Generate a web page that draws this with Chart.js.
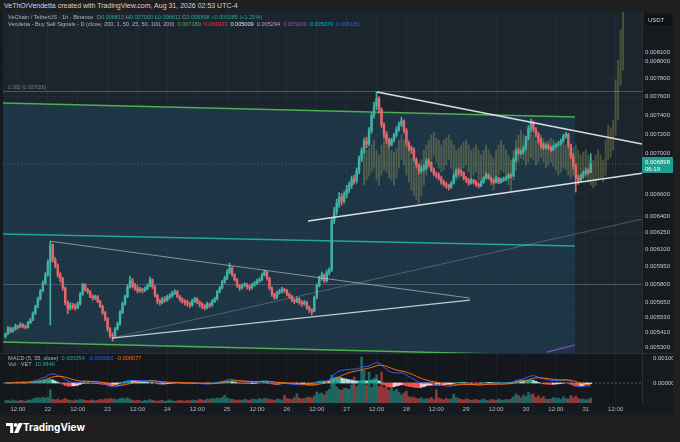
<!DOCTYPE html>
<html>
<head>
<meta charset="utf-8">
<script src="https://cdn.jsdelivr.net/npm/chart.js@4.4.1/dist/chart.umd.min.js"></script>
<style>
  body { margin:0; width:680px; height:442px; background:#1f1f1f; position:relative; overflow:hidden; font-family:"Liberation Sans", Arial, sans-serif; }
  canvas { position:absolute; left:0; background:#161a1f; }
  #main { top:12px; }
  #osc { top:353px; }
  .t { position:absolute; white-space:pre; line-height:1; }
  .g { color:#9598a1; }
  .up { color:#26a69a; }
</style>
</head>
<body>
<canvas id="main" width="673" height="341"></canvas>
<canvas id="osc" width="673" height="62"></canvas>
<div style="position:absolute;left:0;top:353px;width:673px;height:1px;background:#2a2e39"></div>

<div class="t" style="left:4px;top:2px;font-size:7px;color:#d1d4dc">VeThOrVendetta created with TradingView.com, Aug 31, 2026 02:53 UTC-4</div>
<div class="t" style="left:8px;top:15px;font-size:5.6px;color:#b2b5be">VeChain / TetherUS · 1h · Binance  <span class="g">O</span><span class="up">0.006813</span> <span class="g">H</span><span class="up">0.007000</span> <span class="g">L</span><span class="up">0.006811</span> <span class="g">C</span><span class="up">0.006898</span> <span class="up">+0.000085 (+1.25%)</span></div>
<div class="t" style="left:8px;top:22px;font-size:5.6px;color:#b2b5be">Vendetta - Buy Sell Signals - D (close, 200, 1, 50, 25, 50, 100, 200)  <span style="color:#4caf50">0.007189</span>  <span style="color:#f23645">0.004933</span>  <span style="color:#e0e3eb">0.005009</span>  <span style="color:#ce93d8">0.005294</span>  <span style="color:#ab47bc">0.005009</span>  <span style="color:#00bcd4">0.005070</span>  <span style="color:#2962ff">0.006181</span></div>
<div class="t" style="left:8px;top:85px;font-size:5px;color:rgba(178,181,190,0.6)">0.382 (0.007656)</div>

<div style="position:absolute;left:645px;top:15px;width:27px;height:10px;background:#0f1215;border-radius:1px"></div>
<div class="t" style="left:648px;top:17px;font-size:6px;color:#d1d4dc">USDT</div>
<div style="position:absolute;left:642px;top:157px;width:31px;height:16px;background:#1f9e8f;border-radius:1px"></div>
<div class="t" style="left:645px;top:159px;font-size:6px;color:#ffffff">0.006898</div>
<div class="t" style="left:645px;top:166px;font-size:6px;color:#ffffff">06:19</div>

<div class="t" style="left:8px;top:356px;font-size:5.6px;color:#b2b5be">MACD (5, 35, close)  <span style="color:#26a69a">0.000054</span>  <span style="color:#2962ff">-0.000063</span>  <span style="color:#ff6d00">-0.000077</span></div>
<div class="t" style="left:8px;top:362px;font-size:5.6px;color:#b2b5be">Vol · VET  <span style="color:#26a69a">10.984K</span></div>

<svg style="position:absolute;left:6px;top:423px" width="17" height="10" viewBox="0 0 17 10">
  <path d="M0 0h7.2v10H4.2V3H0z" fill="#ffffff"/>
  <circle cx="9.7" cy="1.9" r="1.9" fill="#ffffff"/>
  <path d="M12.6 0h4.2l-4.6 10H8z" fill="#ffffff"/>
</svg>
<div class="t" style="left:23px;top:422px;font-size:10px;font-weight:700;color:#ffffff;font-family:Inter, 'Liberation Sans', sans-serif">TradingView</div>

<script>
// hour index 0 = Aug 21 00:00, one candle per hour (1h chart)
const firstHour = 7;
const firstOpenE6 = 5380;

// prices in millionths of USDT
const closeE6 = [
  5400,5447,5420,5440,5463,5455,5475,5460,5450,5490,
  5510,5560,5620,5680,5745,5810,5880,5990,6140,6010,
  5960,5880,5850,5770,5650,5600,5630,5620,5606,5640,
  5720,5800,5760,5740,5700,5690,5700,5660,5620,5570,
  5520,5440,5390,5385,5440,5480,5570,5640,5700,5780,
  5830,5790,5770,5745,5760,5750,5765,5790,5840,5780,
  5710,5660,5650,5680,5670,5700,5705,5730,5740,5700,
  5680,5660,5655,5640,5630,5665,5680,5650,5640,5620,
  5610,5640,5630,5660,5680,5740,5770,5820,5850,5900,
  5940,5880,5840,5790,5770,5790,5800,5780,5770,5795,
  5810,5830,5840,5880,5905,5850,5770,5720,5690,5730,
  5740,5760,5750,5720,5700,5670,5660,5680,5650,5640,
  5655,5610,5590,5580,5690,5790,5850,5880,5830,5900,
  5920,6360,6440,6520,6580,6540,6600,6650,6690,6750,
  6730,6830,6950,7030,7130,7100,7240,7400,7500,7580,
  7460,7300,7200,7140,7090,7140,7190,7250,7300,7340,
  7240,7110,7060,7040,6940,6890,6830,6850,6860,6930,
  6910,6840,6800,6790,6760,6720,6700,6690,6670,6710,
  6780,6830,6820,6810,6760,6740,6710,6740,6720,6700,
  6685,6720,6760,6790,6760,6740,6720,6760,6720,6740,
  6750,6765,6790,6780,6940,7030,7010,7020,7060,7160,
  7260,7320,7250,7200,7140,7090,7060,7080,7060,7040,
  7070,7090,7100,7130,7180,7200,7090,6980,6880,6760,
  6740,6780,6810,6830,6813,6898
];
const highE6 = [
  5410,5460,5455,5452,5478,5470,5490,5482,5470,5500,
  5525,5575,5630,5695,5760,5830,5900,6010,6173,6150,
  6030,5975,5900,5860,5780,5665,5650,5645,5640,5655,
  5735,5811,5805,5770,5750,5715,5712,5710,5670,5630,
  5580,5530,5450,5410,5450,5495,5585,5655,5712,5800,
  5871,5850,5810,5790,5775,5770,5780,5805,5862,5845,
  5790,5720,5680,5695,5700,5712,5725,5745,5755,5750,
  5710,5690,5675,5670,5655,5680,5695,5690,5665,5650,
  5635,5655,5650,5675,5695,5750,5785,5835,5870,5925,
  5982,5950,5890,5850,5800,5805,5815,5810,5795,5810,
  5825,5845,5855,5895,5921,5910,5860,5780,5730,5745,
  5760,5775,5770,5760,5730,5710,5685,5695,5690,5665,
  5670,5660,5625,5600,5705,5805,5871,5904,5890,5921,
  5940,6382,6480,6560,6620,6610,6630,6690,6720,6780,
  6790,6860,6980,7060,7160,7170,7270,7430,7540,7650,
  7600,7480,7320,7230,7160,7160,7210,7280,7330,7380,
  7350,7260,7130,7080,7060,6960,6900,6880,6890,6950,
  6950,6920,6860,6820,6810,6780,6740,6720,6700,6725,
  6800,6850,6860,6840,6820,6775,6755,6760,6750,6735,
  6715,6735,6775,6810,6800,6770,6750,6780,6770,6760,
  6770,6780,6805,6800,6960,7050,7060,7040,7080,7180,
  7290,7360,7340,7270,7220,7160,7110,7100,7100,7075,
  7090,7110,7125,7150,7200,7222,7210,7100,7000,6900,
  6790,6800,6830,6860,6850,7000
];
const lowE6 = [
  5370,5395,5410,5415,5430,5440,5450,5448,5440,5445,
  5480,5505,5555,5610,5670,5740,5800,5870,5471,5990,
  5940,5860,5820,5750,5630,5560,5590,5600,5590,5600,
  5630,5710,5745,5725,5690,5670,5675,5650,5610,5555,
  5505,5420,5370,5346,5375,5430,5470,5560,5630,5690,
  5770,5770,5750,5730,5735,5730,5740,5755,5780,5765,
  5695,5640,5630,5640,5655,5660,5680,5695,5715,5690,
  5660,5645,5630,5620,5610,5620,5650,5640,5615,5600,
  5590,5600,5610,5620,5650,5670,5730,5760,5810,5840,
  5890,5870,5830,5775,5750,5760,5780,5760,5750,5760,
  5785,5800,5815,5830,5870,5835,5755,5700,5675,5680,
  5720,5730,5735,5705,5685,5655,5640,5650,5635,5620,
  5630,5595,5570,5550,5575,5680,5780,5835,5815,5820,
  5880,5910,6330,6410,6480,6500,6520,6570,6620,6660,
  6700,6710,6800,6920,7000,7060,7080,7210,7370,7460,
  7420,7270,7160,7100,7060,7080,7120,7170,7230,7280,
  7210,7080,7030,7000,6920,6860,6800,6810,6830,6840,
  6880,6820,6780,6760,6740,6700,6680,6660,6644,6660,
  6700,6770,6790,6780,6740,6715,6690,6700,6700,6680,
  6665,6675,6710,6750,6745,6720,6700,6710,6705,6710,
  6725,6735,6755,6760,6775,6920,6990,6990,7000,7040,
  7140,7230,7220,7170,7110,7060,7040,7050,7040,7020,
  7030,7060,7070,7090,7120,7160,7060,6950,6850,6625,
  6700,6720,6760,6790,6790,6811
];
// hourly volume, thousands of VET
const volumeK = [
  5,6,4,7,5,4,6,5,4,7,6,
  9,11,12,10,13,11,12,
  29,
  8,7,9,6,8,10,7,6,5,7,6,8,
  7,6,5,6,7,5,6,8,7,9,8,10,
  9,8,7,10,11,9,12,8,6,5,6,
  5,4,6,5,8,6,5,4,5,6,4,5,7,5,4,5,6,5,4,6,
  5,7,6,5,8,7,6,9,8,10,9,11,10,12,17,11,9,8,7,6,
  7,6,8,7,6,9,8,7,10,8,11,9,8,7,6,9,8,7,
  17,10,9,8,12,20,11,9,10,12,13,11,
  16,24,20,22,18,26,30,
  62,44,36,30,28,33,32,30,
  40,57,36,42,101,72,40,68,34,55,62,36,68,34,36,
  28,42,26,30,24,18,22,26,14,12,13,10,9,12,8,
  10,9,12,8,29,11,9,7,10,8,9,20,12,10,8,7,9,8,6,7,
  8,6,7,9,6,5,8,7,6,9,7,6,8,7,9,
  14,20,16,12,18,14,24,18,20,12,16,10,14,9,8,
  9,12,10,11,8,14,10,9,17,12,15,10,8,9,7,8,11
];

// Vendetta daily-signal overlay (olive bars), one per hour from oliveFirstHour
const oliveFirstHour = 151;
const oliveHighE6 = [
  6987,7037,7058,7089,7139,7037,6987,7089,7139,7089,
  7058,7037,7017,7058,7139,7191,7139,7089,7037,6957,
  6917,6887,6857,6937,7037,7089,7139,7191,7222,7160,
  7139,7089,7139,7160,7191,7139,7089,7037,7058,7089,
  7119,7139,7089,7037,7058,7089,7037,6987,7037,7089,
  7037,6987,6957,7037,7089,7139,7089,7037,6987,6937,
  7037,7139,7191,7243,7191,7139,7160,7222,7191,7139,
  7160,7191,7160,7119,7139,7160,7139,7089,7058,7089,
  7119,7089,7058,7037,7058,7089,7037,6987,7017,7037,
  6987,6957,6937,6987,7037,6987,6937,7139,7295,7264,
  7348,7784,8011,8365,8733
];
const oliveLowE6 = [
  6692,6740,6779,6819,6857,6740,6692,6789,6838,6819,
  6760,6740,6692,6760,6857,6937,6887,6789,6721,6644,
  6596,6549,6521,6596,6692,6789,6857,6937,6987,6917,
  6857,6819,6838,6887,6937,6857,6789,6740,6760,6819,
  6857,6887,6819,6760,6789,6819,6740,6692,6740,6789,
  6760,6692,6644,6721,6789,6838,6819,6760,6692,6625,
  6740,6838,6917,6957,6937,6887,6917,6957,6937,6887,
  6917,6957,6917,6857,6887,6917,6877,6838,6789,6819,
  6857,6838,6789,6760,6789,6819,6760,6721,6740,6760,
  6721,6692,6663,6692,6740,6760,6721,6789,6937,6967,
  7037,7191,7348,7729,7897
];

const priceTicksE6 = [8100,8000,7800,7600,7400,7200,7000,6600,6400,6250,6100,5950,5800,5650,5530,5410,5300];
const timeTickHours = [12,24,36,48,60,72,84,96,108,120,132,144,156,168,180,192,204,216,228,240,252];
const timeTickLabels = ['12:00','22','12:00','23','12:00','24','12:00','25','12:00','26','12:00','27','12:00','28','12:00','29','12:00','30','12:00','31','12:00'];
const oscTicks = [0.001, 0];

// drawings on the chart, [hour, priceE6]
const channelTop = [[6, 7530], [235.7, 7380]];
const channelMid = [[6, 6236], [235.7, 6130]];
const channelBottom = [[6, 5339], [235.7, 5233]];
const fibLevel = [[6, 7656], [262.6, 7656]];
const levelLine = [[6, 5800], [262.6, 5800]];
const triAUpper = [[24.85, 6173], [193.5, 5687]];
const triALower = [[49.75, 5369], [193.5, 5671]];
const longRay = [[49.75, 5369], [262.6, 6372]];
const triBUpper = [[156.2, 7650], [262.6, 7099]];
const triBLower = [[128.5, 6354], [262.6, 6808]];
const maStub = [[224.4, 5262], [235.7, 5316]];
const lastPriceE6 = 6898;

const X_MIN = 6, X_MAX = 262.6;
const UP = '#3fb3a3', DOWN = '#e0676a';

const paneBg = {
  id: 'paneBg',
  beforeDraw(chart, args, opts) {
    const {ctx, chartArea: a} = chart;
    ctx.save();
    ctx.fillStyle = opts.color;
    ctx.fillRect(a.left, a.top, a.right - a.left, a.bottom - a.top);
    ctx.restore();
  }
};

const candles = closeE6.map((c, i) => {
  const o = i === 0 ? firstOpenE6 : closeE6[i - 1];
  return {h: firstHour + i, o: o / 1e6, c: c / 1e6, hi: highE6[i] / 1e6, lo: lowE6[i] / 1e6, up: c >= o};
});

function seg(pts) {
  return pts.map(p => ({x: p[0], y: p[1] / 1e6}));
}
function lineDs(pts, color, width, order, extra) {
  return Object.assign({
    type: 'line', data: seg(pts), borderColor: color, borderWidth: width,
    pointRadius: 0, tension: 0, order: order, fill: false
  }, extra || {});
}

const mainDatasets = [
  lineDs(channelTop, '#4caf50', 1.5, 20, {fill: {target: 2, above: 'rgba(36,88,122,0.32)', below: 'rgba(36,88,122,0.32)'}}),
  lineDs(channelMid, '#1fa898', 1.5, 19),
  lineDs(channelBottom, '#4caf50', 1.5, 18),
  lineDs(fibLevel, 'rgba(150,153,160,0.45)', 1, 17),
  lineDs(levelLine, 'rgba(150,153,160,0.4)', 1, 16),
  {
    type: 'bar', order: 6, grouped: false, barThickness: 1.3,
    data: oliveHighE6.map((v, i) => ({x: oliveFirstHour + i, y: [oliveLowE6[i] / 1e6, v / 1e6]})),
    backgroundColor: 'rgba(170,170,88,0.34)'
  },
  {
    type: 'bar', order: 5, grouped: false, barThickness: 1,
    data: candles.map(k => ({x: k.h, y: [k.lo, k.hi]})),
    backgroundColor: candles.map(k => k.up ? UP : DOWN)
  },
  {
    type: 'bar', order: 4, grouped: false, barThickness: 1.8, minBarLength: 1,
    data: candles.map(k => ({x: k.h, y: [k.o, k.c]})),
    backgroundColor: candles.map(k => k.up ? UP : DOWN)
  },
  lineDs(triAUpper, 'rgba(220,222,228,0.55)', 1, 3),
  lineDs(triALower, 'rgba(235,237,240,0.8)', 1.2, 3),
  lineDs(longRay, 'rgba(200,203,210,0.3)', 1, 3),
  lineDs(triBUpper, 'rgba(240,241,244,0.9)', 1.5, 2),
  lineDs(triBLower, 'rgba(240,241,244,0.9)', 1.5, 2),
  lineDs(maStub, '#7e57c2', 1.2, 2),
  lineDs([[X_MIN, lastPriceE6], [X_MAX, lastPriceE6]], 'rgba(38,166,154,0.6)', 1, 1, {borderDash: [1, 2]})
];

const tickFont = {family: "'Liberation Sans', Arial, sans-serif", size: 6};

new Chart(document.getElementById('main'), {
  data: {datasets: mainDatasets},
  options: {
    responsive: false, animation: false, devicePixelRatio: 1,
    layout: {padding: {left: 3, right: 0, top: 0, bottom: 0}},
    plugins: {legend: {display: false}, tooltip: {enabled: false}, paneBg: {color: '#1b252e'}},
    scales: {
      x: {
        type: 'linear', min: X_MIN, max: X_MAX, offset: false,
        grid: {color: 'rgba(255,255,255,0.035)', drawTicks: false, offset: false},
        border: {display: false},
        ticks: {display: false},
        afterBuildTicks: s => { s.ticks = timeTickHours.map(v => ({value: v})); },
        afterFit: s => { s.height = 0; s.paddingLeft = 0; s.paddingRight = 0; }
      },
      y: {
        type: 'logarithmic', position: 'right',
        min: 5255 / 1e6, max: 8585 / 1e6,
        grid: {color: 'rgba(255,255,255,0.03)', drawTicks: false},
        border: {color: '#2a2e39'},
        ticks: {color: '#c3c6ce', font: tickFont, padding: 3, autoSkip: false,
                callback: v => Number(v).toFixed(6)},
        afterBuildTicks: s => { s.ticks = priceTicksE6.map(v => ({value: v / 1e6})); },
        afterFit: s => { s.width = 31; s.paddingTop = 0; s.paddingBottom = 0; }
      }
    }
  },
  plugins: [paneBg]
});

// MACD (5, 35, close) with signal line, and volume overlay
function ema(src, n) {
  const k = 2 / (n + 1);
  const out = [];
  src.forEach((v, i) => out.push(i ? v * k + out[i - 1] * (1 - k) : v));
  return out;
}
const closes = candles.map(k => k.c);
const fast = ema(closes, 5), slow = ema(closes, 35);
const macd = fast.map((v, i) => v - slow[i]);
const signal = ema(macd, 9);
const hist = macd.map((v, i) => v - signal[i]);
const histColors = hist.map((v, i) => {
  const prev = i ? hist[i - 1] : 0;
  if (v >= 0) return v >= prev ? '#26a69a' : '#b2dfdb';
  return v < prev ? '#ff5252' : '#ffcdd2';
});

new Chart(document.getElementById('osc'), {
  data: {
    datasets: [
      {
        type: 'bar', order: 10, grouped: false, barThickness: 2, yAxisID: 'yVol',
        data: volumeK.map((v, i) => ({x: candles[i].h, y: v})),
        backgroundColor: candles.map(k => k.up ? 'rgba(38,166,154,0.55)' : 'rgba(239,83,80,0.55)')
      },
      {
        type: 'line', order: 9, yAxisID: 'y',
        data: [{x: X_MIN, y: 0}, {x: X_MAX, y: 0}],
        borderColor: 'rgba(120,123,134,0.6)', borderWidth: 1, borderDash: [2, 2], pointRadius: 0
      },
      {
        type: 'bar', order: 5, grouped: false, barThickness: 2, yAxisID: 'y',
        data: hist.map((v, i) => ({x: candles[i].h, y: v})),
        backgroundColor: histColors
      },
      {
        type: 'line', order: 2, yAxisID: 'y',
        data: macd.map((v, i) => ({x: candles[i].h, y: v})),
        borderColor: '#2962ff', borderWidth: 1, pointRadius: 0, tension: 0
      },
      {
        type: 'line', order: 1, yAxisID: 'y',
        data: signal.map((v, i) => ({x: candles[i].h, y: v})),
        borderColor: '#ff6d00', borderWidth: 1, pointRadius: 0, tension: 0
      }
    ]
  },
  options: {
    responsive: false, animation: false, devicePixelRatio: 1,
    layout: {padding: {left: 3, right: 0, top: 0, bottom: 0}},
    plugins: {legend: {display: false}, tooltip: {enabled: false}, paneBg: {color: '#14181d'}},
    scales: {
      x: {
        type: 'linear', min: X_MIN, max: X_MAX, offset: false,
        grid: {color: 'rgba(255,255,255,0.035)', drawTicks: false, offset: false},
        border: {display: false},
        ticks: {color: '#b2b5be', font: tickFont, padding: 3, autoSkip: false, maxRotation: 0,
                callback: (v, i) => timeTickLabels[i]},
        afterBuildTicks: s => { s.ticks = timeTickHours.map(v => ({value: v})); },
        afterFit: s => { s.height = 12; s.paddingLeft = 0; s.paddingRight = 0; }
      },
      y: {
        position: 'right', min: -0.0008, max: 0.0012,
        grid: {display: false},
        border: {color: '#2a2e39'},
        ticks: {color: '#c3c6ce', font: tickFont, padding: 3, autoSkip: false,
                callback: v => Number(v).toFixed(6)},
        afterBuildTicks: s => { s.ticks = oscTicks.map(v => ({value: v})); },
        afterFit: s => { s.width = 31; s.paddingTop = 0; s.paddingBottom = 0; }
      },
      yVol: {display: false, min: 0, max: 110}
    }
  },
  plugins: [paneBg]
});
</script>
</body>
</html>
